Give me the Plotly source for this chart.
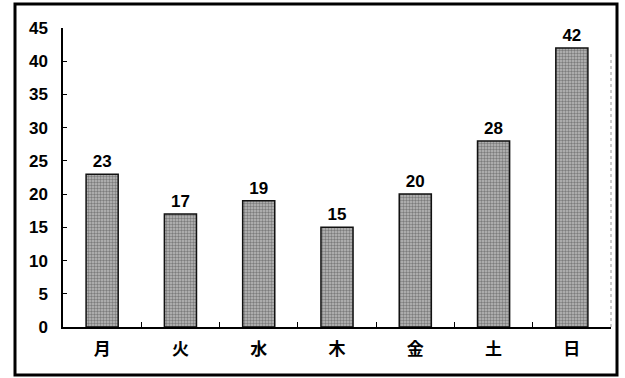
import plotly.graph_objects as go

# Weekly counts by day
days = ["月", "火", "水", "木", "金", "土", "日"]
counts = [23, 17, 19, 15, 20, 28, 42]
y_ticks = [0, 5, 10, 15, 20, 25, 30, 35, 40, 45]

W, H = 625, 378
L, R, T, B = 63, 14, 28, 51
pw, ph = W - L - R, H - T - B

def px_x(x):
    return (x - L) / pw

def px_y(y):
    return (H - B - y) / ph

fig = go.Figure(
    go.Bar(
        x=days,
        y=counts,
        width=0.41,
        text=[str(v) for v in counts],
        textposition="outside",
        constraintext="none",
        textfont=dict(family="Liberation Sans, Arial", size=17, color="#000",
                      weight="bold"),
        cliponaxis=False,
        marker=dict(
            color="#a8a8a8",
            line=dict(color="#111", width=1.5),
            pattern=dict(shape=".", fgcolor="#3c3c3c", bgcolor="#bcbcbc",
                         size=3, solidity=0.5),
        ),
    )
)

fig.update_layout(
    width=W,
    height=H,
    margin=dict(l=L, r=R, t=T, b=B),
    paper_bgcolor="white",
    plot_bgcolor="white",
    showlegend=False,
    font=dict(family="Liberation Sans, Arial", size=15, color="#000"),
    shapes=[
        # outer frame
        dict(type="rect", xref="paper", yref="paper",
             x0=px_x(15), x1=px_x(617), y0=px_y(375), y1=px_y(4),
             line=dict(color="#000", width=3), fillcolor="rgba(0,0,0,0)",
             layer="above"),
        # right edge of plot area, dotted
        dict(type="line", xref="paper", yref="paper",
             x0=1, x1=1, y0=0, y1=0.92,
             line=dict(color="#999", width=1, dash="dot")),
    ],
)

fig.update_xaxes(
    showline=True, linecolor="#000", linewidth=1.5,
    ticks="inside", ticklen=5, tickcolor="#000",
    tickson="boundaries",
    showgrid=False,
    tickfont=dict(family="Noto Sans CJK JP", size=17, color="#000",
                  weight="bold"),
    ticklabelstandoff=6,
)
fig.update_yaxes(
    range=[0, 45],
    tickvals=y_ticks,
    showline=True, linecolor="#000", linewidth=1.5,
    ticks="inside", ticklen=4, tickcolor="#000",
    showgrid=False, zeroline=False,
    tickfont=dict(family="Liberation Sans, Arial", size=17, color="#000",
                  weight="bold"),
    ticklabelstandoff=10,
)

fig.write_html("out.html")
